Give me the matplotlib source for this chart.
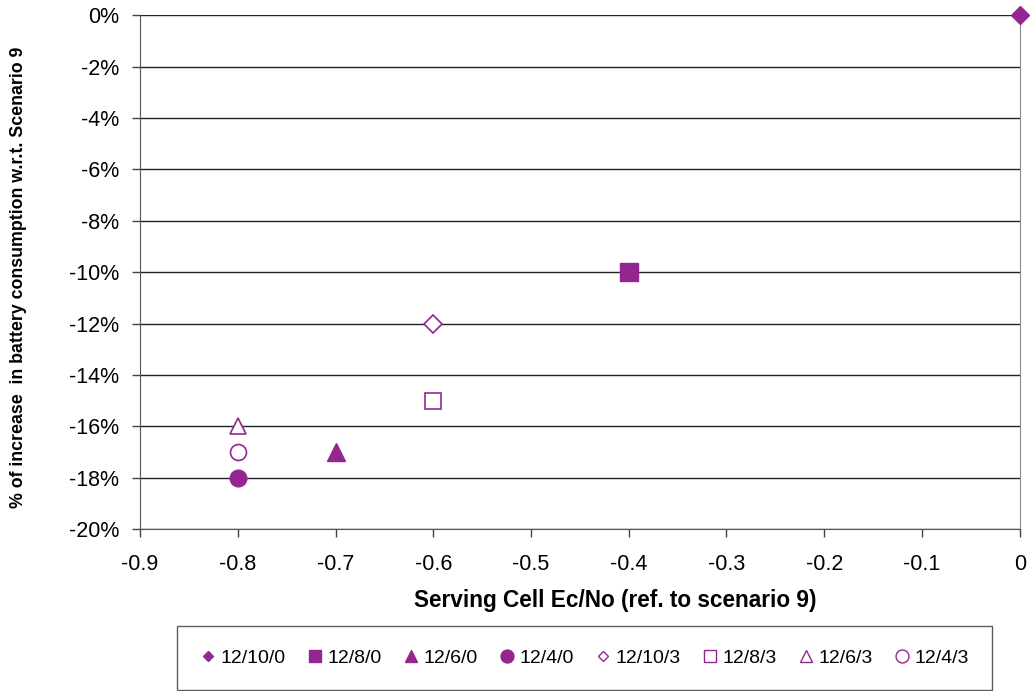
import matplotlib
matplotlib.use("Agg")
import matplotlib.pyplot as plt
from matplotlib.lines import Line2D
from matplotlib.ticker import FuncFormatter

plt.rcParams['font.family'] = ['Liberation Sans', 'DejaVu Sans']

# данные: сценарий, сдвиг Ec/No, изменение расхода батареи (%)
labels = ['12/10/0', '12/8/0', '12/6/0', '12/4/0', '12/10/3', '12/8/3', '12/6/3', '12/4/3']
ecno = [0.0, -0.4, -0.7, -0.8, -0.6, -0.6, -0.8, -0.8]
battery = [0, -10, -17, -18, -12, -15, -16, -17]
markers = ['D', 's', '^', 'o', 'D', 's', '^', 'o']
filled = [True, True, True, True, False, False, False, False]
sizes = [9.5, 13, 13, 12, 9.5, 12, 12, 11.5]
# размеры маркеров в легенде
leg_sizes = {'D': 5.5, 's': 8.5, '^': 8.5, 'o': 9.3}

purple = '#93278F'

fig = plt.figure(figsize=(10.3, 6.91), dpi=100)
ax = fig.add_axes([0.136, 0.234, 0.854, 0.744])

handles = []
for lab, x, y, m, f, s in zip(labels, ecno, battery, markers, filled, sizes):
    face = purple if f else 'white'
    ew = 1.0 if f else 1.2
    ax.plot(x, y, linestyle='none', marker=m, markersize=s,
            markerfacecolor=face, markeredgecolor=purple, markeredgewidth=ew,
            label=lab, clip_on=False, zorder=5)
    handles.append(Line2D([], [], linestyle='none', marker=m, markersize=leg_sizes[m],
                          markerfacecolor=face, markeredgecolor=purple,
                          markeredgewidth=1.0, label=lab))

ax.set_xlim(-0.9, 0)
ax.set_ylim(-20, 0)
ax.set_xticks([-0.9, -0.8, -0.7, -0.6, -0.5, -0.4, -0.3, -0.2, -0.1, 0])
ax.set_xticklabels(['-0.9', '-0.8', '-0.7', '-0.6', '-0.5', '-0.4', '-0.3', '-0.2', '-0.1', '0'])
ax.set_yticks(range(-20, 1, 2))
ax.yaxis.set_major_formatter(FuncFormatter(lambda v, p: '%d%%' % v))
ax.tick_params(labelsize=15.5, length=6, width=1, color='#444444')
ax.tick_params(axis='x', pad=12)
ax.tick_params(axis='y', pad=9)

ax.grid(axis='y', color='#222222', linewidth=1)
ax.set_axisbelow(True)
ax.spines['top'].set_visible(False)
ax.spines['right'].set_color('#888888')
ax.spines['left'].set_color('#555555')
ax.spines['bottom'].set_color('#555555')

ax.set_xlabel('Serving Cell Ec/No (ref. to scenario 9)', fontsize=16.3, fontweight='bold')
ax.set_ylabel('% of increase  in battery consumption w.r.t. Scenario 9', fontsize=12.8, fontweight='bold')
ax.xaxis.set_label_coords(0.54, -0.117)
ax.yaxis.set_label_coords(-0.128, 0.49)

leg = fig.legend(handles=handles, loc='lower center', bbox_to_anchor=(0.5675, 0.0015), ncol=8,
                 fontsize=14, frameon=True, fancybox=False, edgecolor='#333333',
                 handletextpad=0.25, columnspacing=1.1, handlelength=0.8, borderpad=1.2,
                 borderaxespad=0)
leg.get_frame().set_linewidth(1.0)

fig.savefig('out.png', dpi=100)
